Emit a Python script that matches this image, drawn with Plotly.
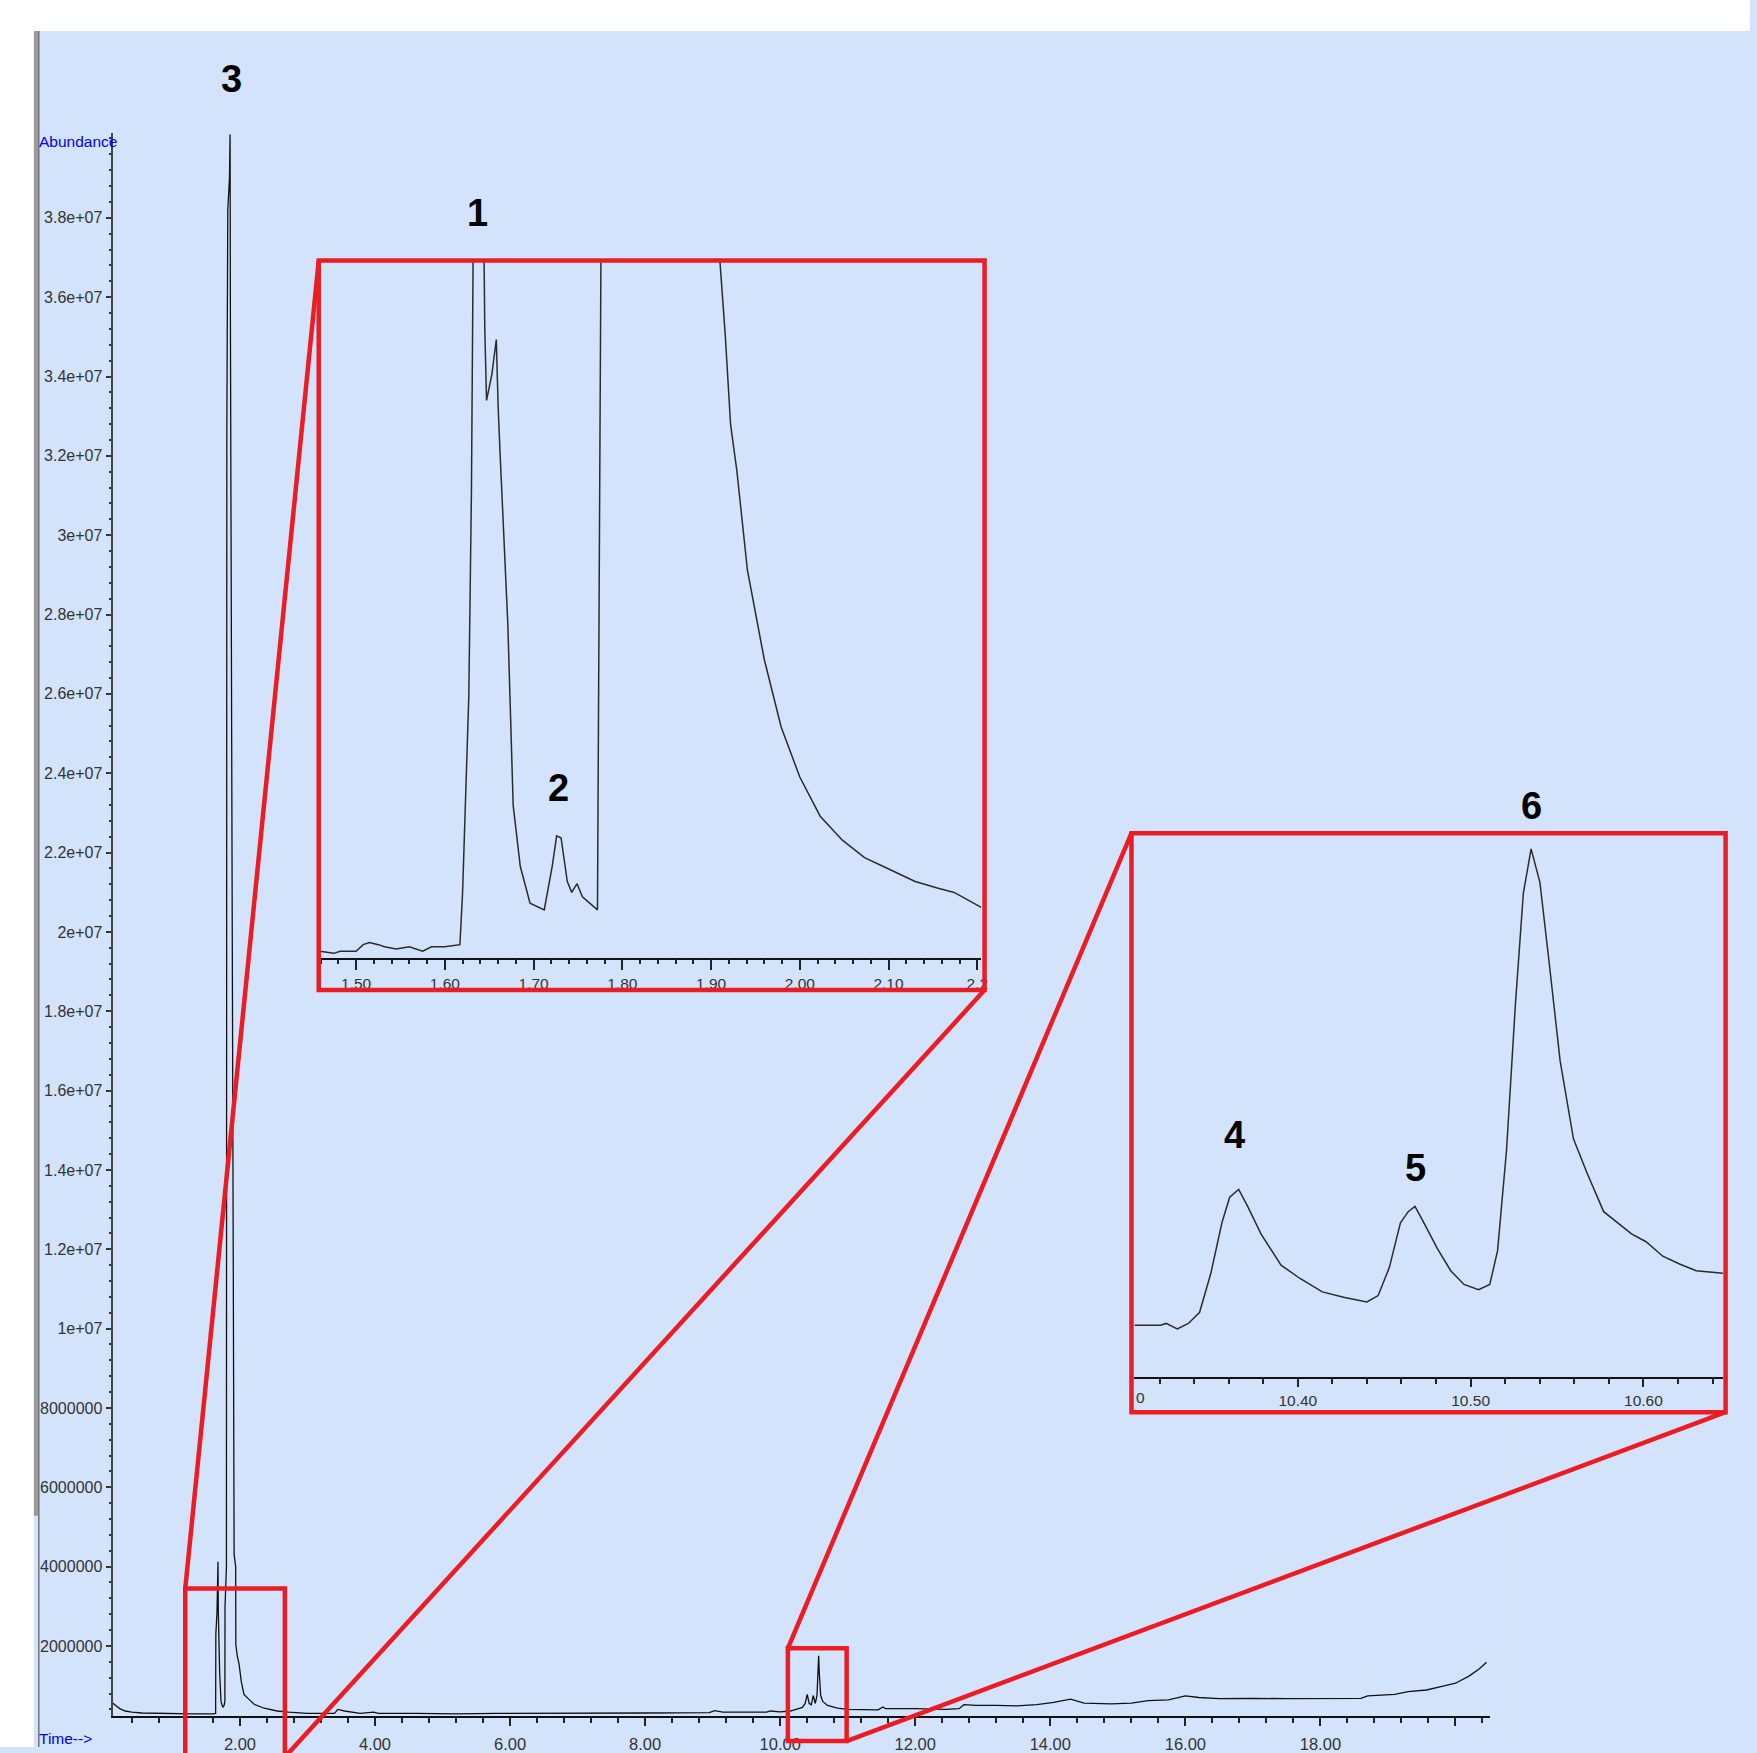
import plotly.graph_objects as go

W, H = 1757, 1753

# ---------------- data (time in min, abundance in millions of counts) ----------------
main_time = [0.114, 0.16, 0.22, 0.30, 0.40, 0.55, 0.75, 1.0, 1.3, 1.6, 1.640, 1.643, 1.660, 1.675,
             1.680, 1.700, 1.720, 1.736, 1.750, 1.765, 1.777, 1.779, 1.800, 1.806, 1.820, 1.845,
             1.854, 1.858, 1.864, 1.900, 1.912, 1.914, 1.937, 1.939, 1.960, 1.987, 2.02, 2.06,
             2.13, 2.21, 2.36, 2.55, 2.72, 3.0, 3.40, 3.45, 3.55, 3.70, 3.78, 3.98, 4.05, 4.6,
             5.2, 5.8, 6.5, 7.3, 8.0, 8.95, 9.03, 9.15, 9.8, 9.85, 10.0, 10.15, 10.25, 10.33,
             10.37, 10.40, 10.43, 10.46, 10.49, 10.52, 10.545, 10.56, 10.57, 10.58, 10.60, 10.63,
             10.7, 10.85, 11.0, 11.45, 11.52, 11.56, 12.0, 12.45, 12.65, 12.72, 12.9, 13.2, 13.5,
             13.8, 14.05, 14.3, 14.5, 14.9, 15.2, 15.45, 15.75, 16.0, 16.2, 16.5, 17.0, 17.5,
             18.0, 18.6, 18.7, 19.1, 19.3, 19.57, 19.8, 20.0, 20.2, 20.35, 20.46]
main_abund = [0.56, 0.50, 0.42, 0.36, 0.33, 0.31, 0.30, 0.29, 0.29, 0.29, 0.30, 2.29, 2.84, 4.12,
              2.85, 1.30, 0.60, 0.50, 0.46, 0.50, 0.60, 2.97, 4.0, 32.6, 38.2, 39.0,
              40.1, 36.0, 32.6, 12.0, 6.0, 4.3, 4.0, 2.04, 1.75, 1.54, 1.10, 0.78,
              0.66, 0.53, 0.43, 0.36, 0.33, 0.30, 0.30, 0.40, 0.36, 0.33, 0.30, 0.33, 0.30, 0.30,
              0.29, 0.30, 0.30, 0.31, 0.31, 0.32, 0.37, 0.33, 0.33, 0.36, 0.34, 0.36, 0.40, 0.45,
              0.55, 0.78, 0.55, 0.52, 0.75, 0.55, 0.75, 1.40, 1.75, 1.30, 0.75, 0.60,
              0.50, 0.43, 0.40, 0.39, 0.46, 0.42, 0.42, 0.40, 0.42, 0.52, 0.50, 0.50, 0.49,
              0.52, 0.58, 0.66, 0.56, 0.54, 0.56, 0.62, 0.64, 0.74, 0.70, 0.67, 0.68, 0.67,
              0.67, 0.68, 0.74, 0.78, 0.85, 0.89, 0.98, 1.06, 1.24, 1.42, 1.59]

inset1_time = [1.459, 1.475, 1.482, 1.500, 1.508, 1.515, 1.525, 1.532, 1.545, 1.560, 1.575, 1.585,
               1.600, 1.617, 1.620, 1.627, 1.630, 1.631, 1.632, 1.638, 1.644, 1.645, 1.647, 1.653,
               1.658, 1.660, 1.662, 1.671, 1.677, 1.685, 1.696, 1.712, 1.721, 1.726, 1.731, 1.738,
               1.743, 1.749, 1.755, 1.772, 1.7745, 1.776, 1.80, 1.854, 1.90, 1.910, 1.916, 1.922,
               1.929, 1.941, 1.960, 1.979, 2.000, 2.023, 2.048, 2.073, 2.099, 2.130, 2.155, 2.174,
               2.205]
inset1_abund = [0.33, 0.32, 0.33, 0.33, 0.36, 0.37, 0.36, 0.35, 0.34, 0.35, 0.33, 0.35,
                0.35, 0.36, 0.60, 1.50, 2.45, 3.0, 3.6, 4.2, 3.6, 3.19, 2.86, 2.98,
                3.14, 2.84, 2.64, 1.83, 1.00, 0.72, 0.55, 0.52, 0.72, 0.86, 0.85, 0.65,
                0.60, 0.64, 0.58, 0.52, 2.77, 3.6, 30.0, 40.0, 6.0, 3.5, 3.16, 2.75,
                2.54, 2.08, 1.67, 1.36, 1.13, 0.95, 0.84, 0.76, 0.71, 0.65, 0.62, 0.60,
                0.53]

inset2_time = [10.3055, 10.3206, 10.3238, 10.3303, 10.3367, 10.3432, 10.3497, 10.3561, 10.3606,
               10.3658, 10.3710, 10.3787, 10.3903, 10.4013, 10.4142, 10.4271, 10.4400, 10.4465,
               10.4530, 10.4594, 10.4639, 10.4678, 10.4723, 10.4807, 10.4885, 10.4962, 10.5046,
               10.5111, 10.5156, 10.5208, 10.5259, 10.5305, 10.5350, 10.5401, 10.5453, 10.5518,
               10.5595, 10.5673, 10.5770, 10.5854, 10.5931, 10.6015, 10.6112, 10.6209, 10.6305,
               10.6460]
inset2_abund = [0.40, 0.40, 0.405, 0.39, 0.405, 0.435, 0.54, 0.676, 0.745,
                0.766, 0.72, 0.646, 0.562, 0.526, 0.49, 0.475, 0.463, 0.48,
                0.556, 0.676, 0.706, 0.72, 0.682, 0.607, 0.547, 0.51, 0.496,
                0.51, 0.601, 0.872, 1.263, 1.563, 1.683, 1.593, 1.383, 1.112,
                0.902, 0.811, 0.706, 0.676, 0.646, 0.625, 0.586, 0.565, 0.547,
                0.54]

y_tick_vals = [2, 4, 6, 8, 10, 12, 14, 16, 18, 20, 22, 24, 26, 28, 30, 32, 34, 36, 38]
y_tick_text = ["2000000", "4000000", "6000000", "8000000", "1e+07", "1.2e+07", "1.4e+07",
               "1.6e+07", "1.8e+07", "2e+07", "2.2e+07", "2.4e+07", "2.6e+07", "2.8e+07",
               "3e+07", "3.2e+07", "3.4e+07", "3.6e+07", "3.8e+07"]
x_tick_vals = [2, 4, 6, 8, 10, 12, 14, 16, 18, 20]
x_tick_text = ["2.00", "4.00", "6.00", "8.00", "10.00", "12.00", "14.00", "16.00", "18.00", ""]
inset1_tick_vals = [1.5, 1.6, 1.7, 1.8, 1.9, 2.0, 2.1, 2.2]
inset1_tick_text = ["1.50", "1.60", "1.70", "1.80", "1.90", "2.00", "2.10", "2.2"]
inset2_tick_vals = [10.4, 10.5, 10.6]
inset2_tick_text = ["10.40", "10.50", "10.60"]

# ---------------- styling ----------------
BG = "#D3E3FB"
RED = "#EC1C24"
SANS = "Liberation Sans, Arial, sans-serif"


def fx(p):
    return p / W


def fy(p):
    return 1 - p / H


fig = go.Figure()
fig.add_trace(go.Scatter(x=main_time, y=main_abund, mode="lines",
                         line=dict(color="#111111", width=1.3), xaxis="x", yaxis="y",
                         hoverinfo="skip"))
fig.add_trace(go.Scatter(x=inset1_time, y=inset1_abund, mode="lines",
                         line=dict(color="#2b2b2b", width=1.5), xaxis="x2", yaxis="y2",
                         hoverinfo="skip"))
fig.add_trace(go.Scatter(x=inset2_time, y=inset2_abund, mode="lines",
                         line=dict(color="#2b2b2b", width=1.5), xaxis="x3", yaxis="y3",
                         hoverinfo="skip"))

tickfont = dict(family=SANS, size=16, color="#333333")
insetfont = dict(family=SANS, size=15.5, color="#333333")

fig.update_layout(
    width=W, height=H, autosize=False, margin=dict(l=0, r=0, t=0, b=0),
    paper_bgcolor=BG, plot_bgcolor=BG, showlegend=False,
    xaxis=dict(domain=[fx(113), fx(1496)], range=[0.1136, 20.512], anchor="y",
               tickmode="array", tickvals=x_tick_vals, ticktext=x_tick_text,
               ticks="outside", ticklen=8, tickwidth=1.5, tickcolor="#222222",
               showline=True, linecolor="#111111", linewidth=2, showgrid=False, zeroline=False,
               tickfont=dict(family=SANS, size=16.5, color="#333333"), ticklabelstandoff=4,
               minor=dict(dtick=0.4, tick0=0, ticks="outside", ticklen=5, tickwidth=1.5,
                          tickcolor="#222222", showgrid=False)),
    yaxis=dict(domain=[fy(1721.7), fy(133)], range=[0.239, 40.15], anchor="x",
               tickmode="array", tickvals=y_tick_vals, ticktext=y_tick_text,
               ticks="outside", ticklen=5, tickwidth=1.5, tickcolor="#333333",
               showline=True, linecolor="#444444", linewidth=2, showgrid=False, zeroline=False,
               tickfont=tickfont,
               minor=dict(dtick=0.4, tick0=0, ticks="outside", ticklen=2, tickwidth=1.5,
                          tickcolor="#333333", showgrid=False)),
    xaxis2=dict(domain=[fx(321), fx(985)], range=[1.459, 2.2043], anchor="y2",
                tickmode="array", tickvals=inset1_tick_vals, ticktext=inset1_tick_text,
                ticks="outside", ticklen=11, tickwidth=1.5, tickcolor="#222222",
                showline=True, linecolor="#111111", linewidth=1.5, showgrid=False,
                zeroline=False, tickfont=insetfont,
                minor=dict(dtick=0.02, tick0=0, ticks="outside", ticklen=5, tickwidth=1.5,
                           tickcolor="#222222", showgrid=False)),
    yaxis2=dict(domain=[fy(961), fy(262)], range=[0.3, 3.5], anchor="x2", visible=False),
    xaxis3=dict(domain=[fx(1139), fx(1730)], range=[10.3055, 10.6461], anchor="y3",
                tickmode="array", tickvals=inset2_tick_vals, ticktext=inset2_tick_text,
                ticks="outside", ticklen=8, tickwidth=1.5, tickcolor="#222222",
                showline=True, linecolor="#111111", linewidth=1.5, showgrid=False,
                zeroline=False, tickfont=insetfont,
                minor=dict(dtick=0.02, tick0=0, ticks="outside", ticklen=5, tickwidth=1.5,
                           tickcolor="#222222", showgrid=False)),
    yaxis3=dict(domain=[fy(1382), fy(838)], range=[0.26, 1.72], anchor="x3", visible=False),
)

shapes = []
# white frame outside the light-blue window area
shapes.append(dict(type="rect", xref="paper", yref="paper", x0=0, x1=1, y0=fy(31), y1=1,
                   fillcolor="white", line=dict(width=0), layer="below"))
shapes.append(dict(type="rect", xref="paper", yref="paper", x0=0, x1=fx(34), y0=0, y1=1,
                   fillcolor="white", line=dict(width=0), layer="below"))
shapes.append(dict(type="rect", xref="paper", yref="paper", x0=fx(34), x1=fx(38.3),
                   y0=fy(1521), y1=fy(31), fillcolor="#9a9a9a", line=dict(width=0),
                   layer="below"))
shapes.append(dict(type="line", xref="paper", yref="paper", x0=fx(39), x1=fx(39),
                   y0=0, y1=fy(31), line=dict(color="#5a5a5a", width=1.2), layer="below"))
shapes.append(dict(type="line", xref="paper", yref="paper", x0=fx(1512), x1=fx(1512),
                   y0=0, y1=fy(1421), line=dict(color="#dde2ea", width=1.5), layer="below"))


def red_rect(x0, y0, x1, y1):
    shapes.append(dict(type="rect", xref="paper", yref="paper", x0=fx(x0), x1=fx(x1),
                       y0=fy(y1), y1=fy(y0), line=dict(color=RED, width=4.5),
                       fillcolor="rgba(0,0,0,0)", layer="above"))


def red_line(x0, y0, x1, y1):
    shapes.append(dict(type="line", xref="paper", yref="paper", x0=fx(x0), x1=fx(x1),
                       y0=fy(y0), y1=fy(y1), line=dict(color=RED, width=4.5), layer="above"))


red_rect(186, 1594, 286, 1762)
red_rect(791, 1654, 850, 1747)
red_rect(320, 261.5, 988.5, 993.5)
red_rect(1136, 836, 1732.5, 1417)
red_line(186, 1594, 320, 261.5)
red_line(287, 1762, 988.5, 993.5)
red_line(791, 1654, 1136, 836)
red_line(850, 1747, 1732.5, 1417)

fig.update_layout(shapes=shapes)

annotations = []
peak_labels = [("3", 232.5, 79), ("1", 479.6, 214), ("2", 560.3, 791),
               ("6", 1537.3, 809), ("4", 1239.3, 1138.4), ("5", 1420.8, 1172)]
for txt, x, y in peak_labels:
    annotations.append(dict(text=f"<b>{txt}</b>", xref="paper", yref="paper", x=fx(x), y=fy(y),
                            xanchor="center", yanchor="middle", showarrow=False,
                            font=dict(family=SANS, size=38, color="#000000")))
annotations.append(dict(text="Abundance", xref="paper", yref="paper", x=fx(37), y=fy(142),
                        xanchor="left", yanchor="middle", showarrow=False,
                        font=dict(family=SANS, size=15.5, color="#0000EE")))
annotations.append(dict(text="Time-->", xref="paper", yref="paper", x=fx(37), y=fy(1744),
                        xanchor="left", yanchor="middle", showarrow=False,
                        font=dict(family=SANS, size=15.5, color="#0000EE")))
annotations.append(dict(text="0", xref="paper", yref="paper", x=fx(1139), y=fy(1402),
                        xanchor="left", yanchor="middle", showarrow=False,
                        font=insetfont))
fig.update_layout(annotations=annotations)

page_js = (
    "var gd=document.getElementById('{plot_id}');"
    "var wrap=gd.parentElement;"
    "wrap.style.position='fixed';wrap.style.left='0px';wrap.style.top='0px';"
    "wrap.style.margin='0';wrap.style.padding='0';"
    "gd.style.display='block';"
    "document.documentElement.style.margin='0';"
    "document.documentElement.style.overflow='hidden';"
    "document.documentElement.style.background='" + BG + "';"
    "document.body.style.margin='0';document.body.style.overflow='hidden';"
    "document.body.style.background='" + BG + "';"
)
fig.write_html("out.html", config={"displayModeBar": False}, post_script=page_js)
